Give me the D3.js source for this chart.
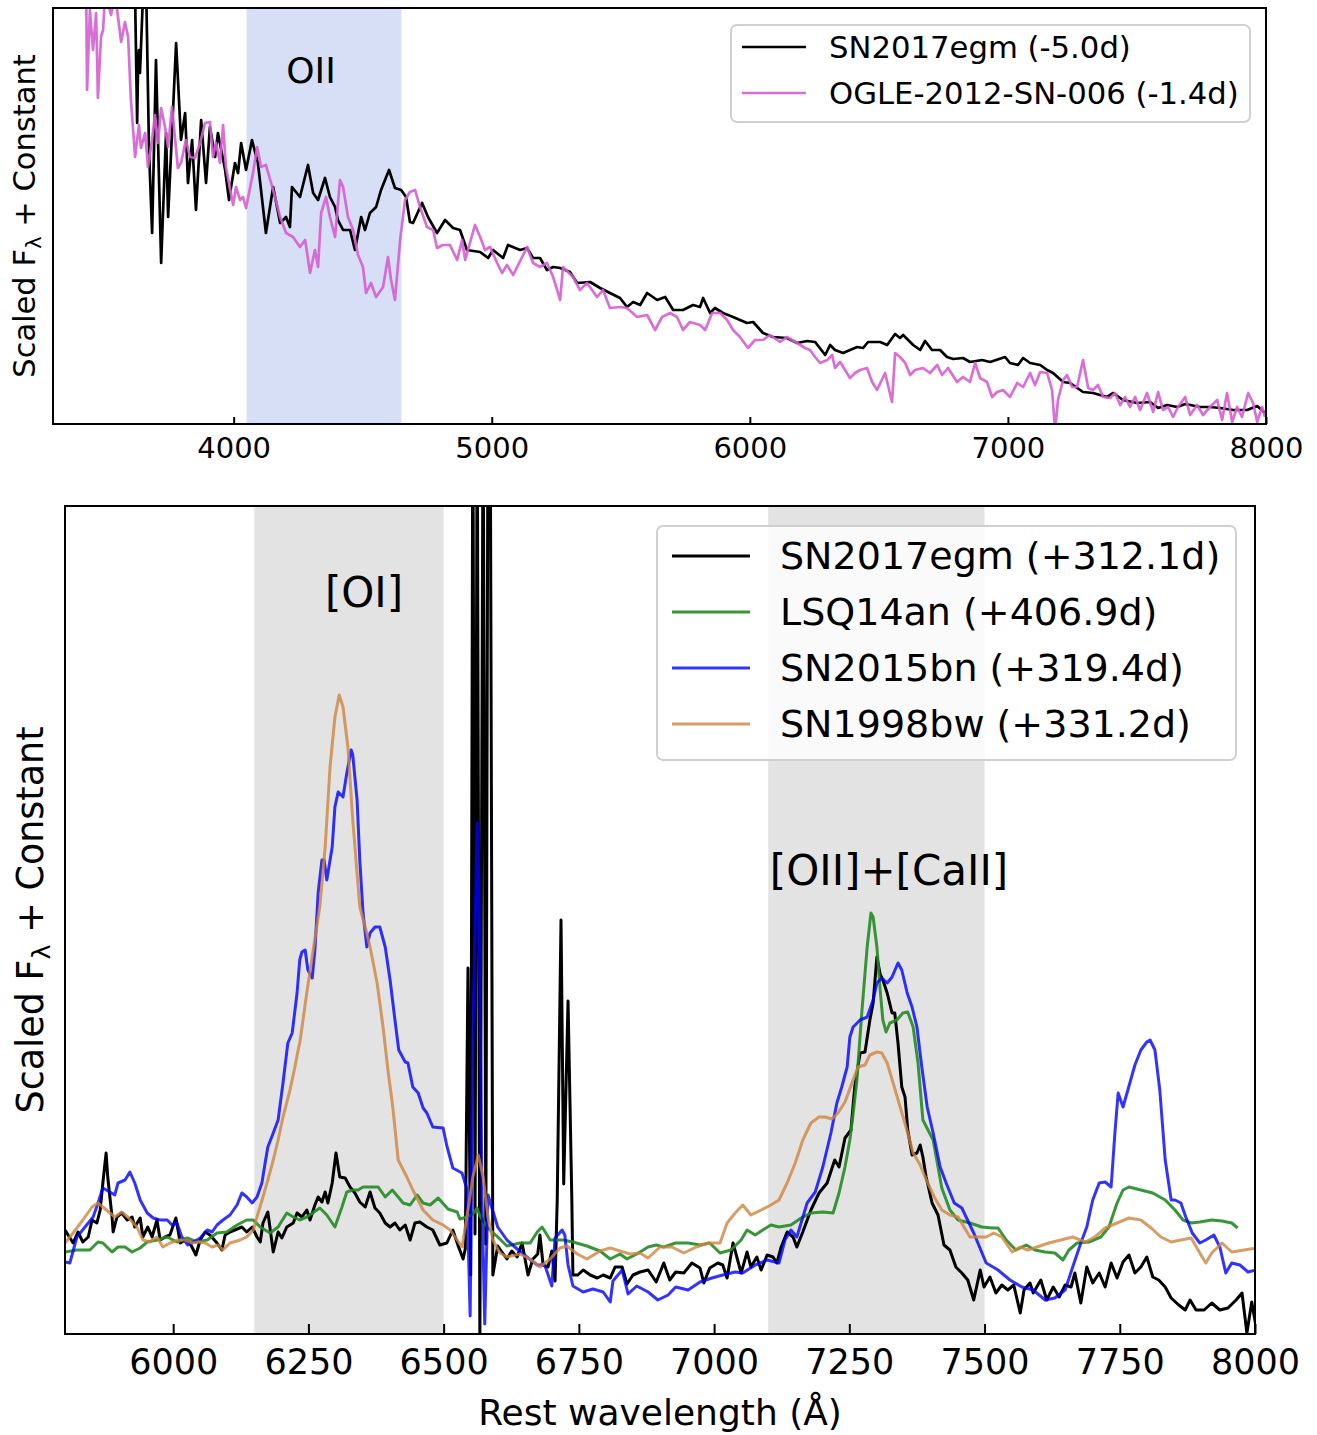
<!DOCTYPE html>
<html>
<head>
<meta charset="utf-8">
<script src="https://cdn.jsdelivr.net/npm/d3@7"></script>
<style>
  html, body { margin: 0; padding: 0; background: #fff; }
  svg { display: block; font-family: "DejaVu Sans", sans-serif; }
</style>
</head>
<body>
<svg id="chart" width="1317" height="1435"></svg>
<script>
// ---------- Early-time spectra (wavelength in Å, scaled flux) ----------
const earlyEgm = [
  [3612,4.6],[3618,4.3],[3626,3.01],[3630,3.64],[3633,3.74],[3637,3.51],[3645,4.04],[3652,4.5],[3660,4.5],
  [3672,2.74],[3684,1.91],[3699,3.64],[3719,1.61],[3738,2.91],[3746,2.07],[3777,3.81],[3796,2.84],
  [3812,3.11],[3823,2.41],[3839,2.84],[3854,2.14],[3874,3.04],[3893,2.41],[3908,2.97],[3928,2.67],
  [3939,2.91],[3967,2.54],[3982,2.24],[4005,2.61],[4017,2.51],[4029,2.81],[4048,2.54],[4071,2.84],
  [4094,2.61],[4125,1.91],[4153,2.37],[4180,2.01],[4203,2.07],[4218,1.97],[4226,2.37],[4257,2.27],
  [4288,2.59],[4308,2.31],[4327,2.24],[4354,2.46],[4373,2.27],[4393,2.17],[4404,2.04],[4424,1.94],
  [4451,1.94],[4470,1.74],[4494,2.07],[4509,1.94],[4528,2.11],[4552,2.17],[4571,2.34],[4602,2.54],
  [4625,2.36],[4649,2.34],[4668,2.27],[4683,2.02],[4695,2.01],[4730,2.21],[4753,2.07],[4788,1.91],
  [4819,2.04],[4850,1.96],[4877,1.94],[4904,1.74],[4955,1.72],[4986,1.66],[5005,1.74],[5044,1.66],
  [5063,1.79],[5110,1.74],[5137,1.76],[5160,1.66],[5187,1.66],[5214,1.54],[5238,1.57],[5265,1.56],
  [5303,1.52],[5331,1.41],[5381,1.42],[5420,1.36],[5458,1.31],[5497,1.26],[5524,1.17],[5548,1.22],
  [5575,1.19],[5602,1.31],[5641,1.24],[5672,1.27],[5703,1.14],[5741,1.14],[5780,1.19],[5807,1.17],
  [5819,1.26],[5846,1.11],[5865,1.16],[5896,1.11],[5935,1.07],[5989,1.01],[6013,1.02],[6051,0.91],
  [6090,0.87],[6144,0.86],[6183,0.81],[6222,0.83],[6253,0.82],[6292,0.69],[6311,0.79],[6330,0.74],
  [6361,0.71],[6416,0.77],[6439,0.76],[6458,0.82],[6505,0.82],[6532,0.79],[6563,0.90],[6582,0.86],
  [6594,0.89],[6633,0.79],[6660,0.74],[6679,0.83],[6706,0.74],[6737,0.74],[6764,0.67],[6788,0.65],
  [6826,0.66],[6853,0.62],[6900,0.64],[6931,0.62],[6989,0.67],[7008,0.61],[7039,0.59],[7059,0.66],
  [7086,0.61],[7125,0.59],[7152,0.54],[7175,0.51],[7214,0.42],[7241,0.41],[7291,0.32],[7330,0.31],
  [7384,0.27],[7408,0.31],[7446,0.24],[7501,0.21],[7551,0.22],[7582,0.16],[7617,0.19],[7656,0.17],
  [7687,0.20],[7745,0.17],[7783,0.17],[7822,0.16],[7873,0.14],[7927,0.14],[7966,0.18],[7996,0.11]
];
const earlyOgle = [
  [3428,4.5],[3432,3.34],[3443,4.14],[3455,3.74],[3467,4.11],[3474,3.26],[3486,3.87],[3494,3.94],
  [3502,4.3],[3525,4.09],[3540,4.3],[3552,4.07],[3564,3.82],[3579,4.02],[3591,3.87],[3602,3.24],
  [3618,2.67],[3633,2.99],[3641,2.76],[3657,2.91],[3668,2.57],[3684,2.84],[3695,3.09],[3707,2.81],
  [3719,3.16],[3734,2.97],[3746,2.77],[3761,3.17],[3784,2.56],[3796,2.61],[3815,2.84],[3831,2.67],
  [3850,2.66],[3870,2.81],[3889,3.01],[3908,3.02],[3920,2.67],[3932,2.81],[3947,2.61],[3959,2.99],
  [3970,2.57],[3998,2.19],[4009,2.37],[4025,2.24],[4036,2.27],[4048,2.16],[4075,2.51],[4091,2.77],
  [4106,2.57],[4125,2.59],[4153,2.34],[4180,2.07],[4203,1.91],[4230,1.87],[4257,1.77],[4277,1.84],
  [4296,1.51],[4315,1.74],[4327,1.57],[4339,2.11],[4358,2.27],[4373,2.07],[4393,1.87],[4412,2.44],
  [4424,2.37],[4443,2.07],[4463,1.94],[4482,1.69],[4501,1.57],[4513,1.31],[4532,1.41],[4552,1.27],
  [4579,1.37],[4598,1.67],[4610,1.44],[4625,1.24],[4645,1.84],[4664,2.24],[4683,2.32],[4703,2.34],
  [4722,2.17],[4749,1.97],[4773,1.94],[4788,1.76],[4811,1.79],[4838,1.79],[4866,1.64],[4885,1.84],
  [4897,1.64],[4935,1.99],[4955,1.87],[4974,1.74],[4993,1.77],[5021,1.61],[5040,1.51],[5059,1.59],
  [5083,1.49],[5137,1.77],[5160,1.61],[5187,1.57],[5214,1.61],[5238,1.47],[5265,1.24],[5276,1.57],
  [5315,1.47],[5342,1.34],[5369,1.41],[5408,1.27],[5431,1.34],[5458,1.16],[5497,1.17],[5524,1.16],
  [5563,1.07],[5602,1.09],[5633,0.94],[5660,1.07],[5691,1.11],[5718,1.07],[5741,0.94],[5768,1.02],
  [5807,0.99],[5827,0.94],[5854,1.11],[5885,1.11],[5912,1.04],[5935,0.94],[5962,0.87],[5993,0.76],
  [6020,0.84],[6051,0.84],[6078,0.89],[6117,0.82],[6144,0.87],[6183,0.81],[6214,0.76],[6233,0.74],
  [6253,0.67],[6272,0.61],[6300,0.64],[6319,0.69],[6330,0.56],[6350,0.62],[6369,0.54],[6388,0.46],
  [6408,0.51],[6427,0.54],[6454,0.56],[6474,0.42],[6493,0.34],[6524,0.51],[6551,0.22],[6563,0.71],
  [6582,0.67],[6602,0.61],[6621,0.49],[6640,0.54],[6671,0.56],[6698,0.51],[6726,0.59],[6745,0.49],
  [6768,0.56],[6803,0.42],[6826,0.47],[6853,0.42],[6873,0.61],[6892,0.46],[6919,0.42],[6939,0.27],
  [6958,0.32],[6981,0.34],[7008,0.27],[7036,0.41],[7059,0.37],[7086,0.51],[7105,0.39],[7125,0.52],
  [7152,0.51],[7171,0.34],[7183,-0.06],[7194,0.24],[7214,0.44],[7229,0.49],[7249,0.37],[7268,0.37],
  [7291,0.64],[7311,0.36],[7330,0.34],[7349,0.39],[7369,0.27],[7396,0.26],[7415,0.31],[7435,0.19],
  [7454,0.27],[7473,0.17],[7493,0.27],[7512,0.14],[7539,0.31],[7563,0.12],[7582,0.32],[7601,0.14],
  [7621,0.17],[7640,0.07],[7659,0.17],[7687,0.27],[7706,0.09],[7733,0.19],[7756,0.09],[7783,0.17],
  [7811,0.24],[7830,0.04],[7849,0.31],[7869,0.02],[7888,0.17],[7907,0.07],[7931,0.31],[7950,0.21],
  [7966,0.02],[7985,0.17],[7996,0.07]
];

// ---------- Nebular spectra ----------
const lateEgm = [
  [5800,1.04],[5815,0.91],[5824,1.02],[5833,0.92],[5843,0.97],[5850,1.14],[5859,1.11],[5865,1.24],
  [5870,1.51],[5876,1.81],[5879,1.57],[5887,1.17],[5889,1.02],[5896,1.17],[5905,1.21],[5915,1.14],
  [5924,1.17],[5929,1.07],[5939,1.16],[5944,0.97],[5953,1.07],[5961,0.97],[5970,1.14],[5976,0.94],
  [5985,0.97],[5994,0.99],[6005,1.16],[6013,0.91],[6022,0.94],[6031,0.91],[6042,0.79],[6050,0.94],
  [6059,1.02],[6068,0.99],[6081,0.91],[6090,0.84],[6096,0.99],[6105,1.02],[6114,1.04],[6127,1.07],
  [6136,1.02],[6146,1.07],[6155,0.97],[6161,0.92],[6166,1.11],[6175,1.22],[6185,0.82],[6194,1.02],
  [6201,0.96],[6210,1.07],[6222,1.11],[6229,1.21],[6238,1.17],[6247,1.24],[6253,1.14],[6262,1.29],
  [6268,1.37],[6275,1.32],[6281,1.42],[6286,1.31],[6294,1.51],[6301,1.81],[6308,1.57],[6318,1.56],
  [6327,1.47],[6336,1.41],[6345,1.32],[6355,1.27],[6364,1.42],[6373,1.26],[6382,1.21],[6392,1.11],
  [6401,1.07],[6410,1.11],[6419,1.04],[6429,1.09],[6438,0.94],[6447,1.11],[6456,1.12],[6469,1.07],
  [6480,1.04],[6493,0.89],[6506,0.91],[6517,1.04],[6527,0.88],[6536,0.75],[6540,0.85],[6545,3.66],
  [6550,0.59],[6554,9.5],[6558,1.0],[6562,9.5],[6567,-0.1],[6573,9.5],[6578,0.9],[6582,9.5],
  [6586,9.5],[6591,0.59],[6600,0.88],[6617,0.75],[6626,0.83],[6636,0.77],[6645,0.91],[6656,0.59],
  [6665,0.75],[6674,0.80],[6678,0.99],[6684,0.69],[6693,0.67],[6700,0.83],[6706,0.53],[6710,1.34],
  [6717,4.14],[6722,1.50],[6730,3.33],[6737,1.34],[6739,0.59],[6748,0.59],[6758,0.64],[6771,0.59],
  [6784,0.56],[6795,0.59],[6808,0.56],[6817,0.67],[6830,0.67],[6839,0.50],[6850,0.59],[6863,0.62],
  [6878,0.64],[6893,0.52],[6907,0.71],[6918,0.54],[6929,0.62],[6944,0.61],[6959,0.71],[6974,0.66],
  [6981,0.51],[6992,0.66],[7007,0.71],[7016,0.69],[7024,0.56],[7035,0.91],[7042,0.77],[7050,0.61],
  [7061,0.82],[7068,0.67],[7079,0.77],[7087,0.64],[7098,0.79],[7109,0.77],[7116,0.71],[7124,0.87],
  [7135,1.02],[7146,0.97],[7153,0.87],[7164,1.02],[7179,1.24],[7194,1.41],[7209,1.51],[7223,1.74],
  [7231,1.67],[7242,1.96],[7253,2.04],[7260,2.47],[7270,2.81],[7279,2.82],[7288,3.14],[7294,3.31],
  [7301,3.77],[7307,3.6],[7312,3.54],[7320,3.41],[7329,3.21],[7334,3.21],[7340,2.91],[7347,2.47],
  [7353,2.37],[7358,2.04],[7366,1.79],[7375,1.81],[7381,1.89],[7386,1.77],[7392,1.57],[7403,1.31],
  [7414,1.19],[7425,0.89],[7436,0.84],[7447,0.67],[7458,0.61],[7469,0.54],[7480,0.34],[7492,0.64],
  [7499,0.47],[7510,0.57],[7521,0.41],[7532,0.49],[7543,0.44],[7554,0.49],[7566,0.21],[7573,0.44],
  [7584,0.51],[7590,0.41],[7604,0.54],[7615,0.34],[7627,0.47],[7638,0.37],[7649,0.49],[7660,0.47],
  [7667,0.61],[7678,0.31],[7689,0.67],[7700,0.51],[7712,0.61],[7723,0.47],[7734,0.71],[7745,0.56],
  [7756,0.72],[7767,0.79],[7778,0.61],[7789,0.67],[7800,0.77],[7811,0.57],[7822,0.54],[7834,0.47],
  [7845,0.36],[7859,0.29],[7871,0.24],[7880,0.34],[7891,0.24],[7906,0.24],[7920,0.31],[7935,0.24],
  [7950,0.26],[7965,0.34],[7976,0.41],[7985,0.01],[7994,0.32],[8002,0.07]
];
const lateLsq = [
  [5800,0.82],[5822,0.84],[5846,0.84],[5861,0.92],[5870,0.91],[5887,0.82],[5898,0.87],[5911,0.87],
  [5924,0.82],[5939,0.86],[5952,0.92],[5970,0.94],[5989,0.97],[6007,0.92],[6026,0.96],[6044,0.92],
  [6063,0.94],[6081,1.01],[6099,1.02],[6118,1.09],[6136,1.14],[6148,1.14],[6161,1.07],[6179,1.01],
  [6194,1.07],[6210,1.21],[6222,1.17],[6234,1.14],[6247,1.17],[6258,1.21],[6271,1.26],[6284,1.19],
  [6299,1.07],[6312,1.27],[6321,1.42],[6332,1.44],[6342,1.44],[6351,1.47],[6364,1.47],[6379,1.47],
  [6392,1.37],[6405,1.44],[6416,1.37],[6425,1.31],[6438,1.29],[6451,1.39],[6462,1.31],[6475,1.29],
  [6490,1.36],[6508,1.25],[6525,1.22],[6530,1.15],[6543,1.17],[6554,1.20],[6562,1.26],[6567,1.18],
  [6582,1.06],[6600,0.97],[6617,0.88],[6641,0.91],[6660,0.91],[6673,1.02],[6682,1.07],[6697,0.94],
  [6721,0.94],[6739,0.92],[6765,0.88],[6789,0.83],[6808,0.75],[6826,0.80],[6839,0.75],[6857,0.80],
  [6878,0.87],[6893,0.89],[6907,0.87],[6929,0.91],[6952,0.91],[6974,0.89],[6992,0.91],[7011,0.81],
  [7031,0.84],[7050,0.94],[7061,1.04],[7076,0.99],[7090,1.04],[7105,1.09],[7120,1.07],[7142,1.09],
  [7161,1.16],[7179,1.21],[7201,1.22],[7220,1.21],[7231,1.41],[7242,1.67],[7251,1.94],[7257,2.2],
  [7264,2.54],[7273,3.21],[7283,3.87],[7290,4.21],[7294,4.17],[7301,3.87],[7307,3.44],[7312,3.14],
  [7318,3.02],[7325,3.11],[7338,3.14],[7349,3.21],[7358,3.22],[7368,3.07],[7377,2.71],[7386,2.14],
  [7405,1.94],[7414,1.67],[7421,1.46],[7436,1.24],[7451,1.14],[7473,1.11],[7495,1.07],[7514,1.06],
  [7525,1.06],[7540,0.94],[7558,0.84],[7577,0.89],[7593,0.84],[7612,0.82],[7630,0.81],[7645,0.74],
  [7656,0.84],[7671,0.91],[7693,0.92],[7715,0.97],[7730,1.07],[7745,1.31],[7756,1.44],[7767,1.47],
  [7789,1.44],[7811,1.41],[7834,1.34],[7852,1.24],[7867,1.14],[7882,1.11],[7898,1.12],[7920,1.14],
  [7939,1.13],[7957,1.11],[7968,1.06]
];
const late2015bn = [
  [5800,0.72],[5809,0.71],[5822,0.97],[5837,1.07],[5852,1.17],[5861,1.31],[5870,1.46],[5883,1.42],
  [5892,1.39],[5898,1.51],[5911,1.54],[5920,1.62],[5929,1.51],[5939,1.34],[5952,1.21],[5963,1.16],
  [5976,1.14],[5989,1.14],[5998,1.09],[6007,1.11],[6016,0.97],[6027,0.89],[6037,0.92],[6050,0.96],
  [6063,1.04],[6072,1.02],[6081,1.09],[6092,1.14],[6105,1.19],[6118,1.29],[6127,1.41],[6136,1.37],
  [6146,1.31],[6155,1.37],[6164,1.51],[6170,1.71],[6175,1.87],[6185,2.01],[6194,2.14],[6203,2.51],
  [6212,2.91],[6220,3.01],[6229,3.41],[6234,3.74],[6238,3.82],[6244,3.84],[6249,3.64],[6257,3.56],
  [6262,3.84],[6268,4.41],[6275,4.74],[6279,4.74],[6284,4.54],[6294,4.87],[6299,5.27],[6305,5.42],
  [6314,5.37],[6321,5.61],[6329,5.84],[6332,5.79],[6340,5.34],[6345,4.74],[6351,4.21],[6358,3.87],
  [6364,4.01],[6373,4.07],[6382,4.07],[6392,3.87],[6401,3.54],[6410,3.14],[6417,2.84],[6429,2.72],
  [6434,2.71],[6443,2.47],[6453,2.41],[6462,2.26],[6469,2.21],[6480,2.07],[6499,2.06],[6506,1.88],
  [6517,1.66],[6534,1.61],[6543,1.45],[6549,0.18],[6554,2.96],[6562,5.11],[6565,4.57],[6571,1.34],
  [6576,0.10],[6582,1.39],[6591,1.23],[6600,1.07],[6617,0.94],[6636,0.85],[6654,0.77],[6673,0.69],
  [6687,0.69],[6700,0.48],[6706,0.96],[6719,1.04],[6724,0.99],[6730,0.69],[6739,0.48],[6758,0.42],
  [6776,0.45],[6795,0.42],[6808,0.32],[6813,0.53],[6830,0.64],[6841,0.40],[6857,0.48],[6878,0.42],
  [6896,0.34],[6915,0.39],[6929,0.47],[6952,0.44],[6974,0.52],[6996,0.56],[7016,0.59],[7039,0.62],
  [7053,0.61],[7076,0.69],[7098,0.74],[7120,0.71],[7131,0.94],[7142,1.04],[7153,0.97],[7172,1.31],
  [7187,1.42],[7201,1.67],[7216,2.01],[7227,2.31],[7236,2.47],[7246,2.67],[7251,2.97],[7257,3.07],
  [7270,3.14],[7283,3.17],[7294,3.34],[7301,3.51],[7310,3.56],[7320,3.51],[7329,3.57],[7340,3.71],
  [7347,3.64],[7357,3.41],[7366,3.27],[7375,3.07],[7384,2.67],[7394,2.27],[7405,2.01],[7418,1.67],
  [7429,1.51],[7444,1.31],[7458,1.26],[7480,1.01],[7503,0.71],[7525,0.64],[7547,0.54],[7569,0.47],
  [7590,0.44],[7612,0.34],[7630,0.36],[7649,0.44],[7663,0.67],[7678,0.91],[7689,1.07],[7700,1.34],
  [7712,1.51],[7723,1.52],[7734,1.47],[7741,2.01],[7747,2.41],[7756,2.27],[7765,2.44],[7778,2.69],
  [7789,2.84],[7800,2.92],[7806,2.94],[7815,2.84],[7824,2.44],[7834,1.74],[7845,1.34],[7852,1.34],
  [7863,1.31],[7872,1.17],[7884,1.01],[7898,0.91],[7909,0.94],[7924,0.99],[7935,0.87],[7946,0.61],
  [7957,0.71],[7972,0.69],[7987,0.62],[8002,0.64]
];
const late1998bw = [
  [5800,0.91],[5815,1.01],[5833,1.14],[5850,1.27],[5861,1.31],[5870,1.27],[5883,1.21],[5892,1.17],
  [5905,1.22],[5916,1.17],[5933,1.07],[5944,0.94],[5957,0.92],[5970,0.97],[5981,0.87],[5994,0.91],
  [6009,0.94],[6022,0.94],[6035,0.91],[6046,0.92],[6059,0.91],[6072,0.87],[6083,0.89],[6092,0.84],
  [6105,0.91],[6124,0.94],[6136,0.97],[6148,1.04],[6157,1.21],[6166,1.37],[6175,1.54],[6185,1.74],
  [6194,1.94],[6203,2.17],[6216,2.44],[6225,2.67],[6231,2.84],[6234,2.91],[6247,3.41],[6258,3.81],
  [6271,4.27],[6281,4.87],[6290,5.67],[6299,6.17],[6307,6.39],[6314,6.27],[6323,5.87],[6332,5.14],
  [6345,4.27],[6355,4.07],[6364,3.87],[6377,3.51],[6388,3.07],[6397,2.64],[6406,2.27],[6416,1.74],
  [6432,1.57],[6443,1.44],[6462,1.24],[6480,1.14],[6499,1.09],[6512,1.04],[6525,0.94],[6534,0.87],
  [6543,1.17],[6554,1.57],[6564,1.79],[6573,1.57],[6582,1.17],[6591,0.94],[6604,0.81],[6617,0.77],
  [6641,0.80],[6660,0.75],[6678,0.67],[6697,0.75],[6715,0.86],[6728,0.88],[6747,0.80],[6765,0.75],
  [6789,0.83],[6808,0.86],[6826,0.83],[6845,0.80],[6863,0.81],[6878,0.76],[6900,0.87],[6922,0.87],
  [6944,0.81],[6967,0.87],[6989,0.91],[7011,0.91],[7024,1.11],[7039,1.21],[7053,1.29],[7068,1.19],
  [7087,1.24],[7105,1.29],[7120,1.34],[7135,1.51],[7150,1.71],[7164,1.94],[7179,2.11],[7194,2.17],
  [7205,2.17],[7218,2.15],[7229,2.21],[7242,2.32],[7255,2.51],[7266,2.67],[7279,2.69],[7288,2.79],
  [7301,2.82],[7310,2.81],[7320,2.71],[7331,2.51],[7344,2.27],[7358,2.01],[7368,1.81],[7381,1.69],
  [7390,1.57],[7407,1.37],[7421,1.24],[7436,1.19],[7451,1.17],[7473,0.97],[7488,0.97],[7503,0.97],
  [7517,1.01],[7532,0.97],[7551,0.82],[7566,0.87],[7580,0.84],[7597,0.87],[7619,0.91],[7641,0.94],
  [7663,0.97],[7686,0.92],[7704,0.97],[7723,1.06],[7745,1.11],[7767,1.16],[7789,1.14],[7808,1.06],
  [7826,0.97],[7845,0.92],[7863,0.94],[7882,0.96],[7898,0.81],[7909,0.71],[7920,0.81],[7939,0.91],
  [7957,0.82],[7980,0.84],[8002,0.86]
];

// Shaded line regions (Å)
const earlyBands = [{from: 4050, to: 4650}];
const lateBands = [{from: 6150, to: 6500}, {from: 7100, to: 7500}];

// Tick values
const earlyTicks = [4000, 5000, 6000, 7000, 8000];
const lateTicks = [6000, 6250, 6500, 6750, 7000, 7250, 7500, 7750, 8000];

// Series tables
const earlySeries = [
  {name: "SN2017egm (-5.0d)", data: earlyEgm, color: "#000000", opacity: 1},
  {name: "OGLE-2012-SN-006 (-1.4d)", data: earlyOgle, color: "#d55ed3", opacity: 0.9}
];
const lateSeries = [
  {name: "SN2017egm (+312.1d)", data: lateEgm, color: "#000000", opacity: 1},
  {name: "LSQ14an (+406.9d)", data: lateLsq, color: "#228b22", opacity: 0.9},
  {name: "SN2015bn (+319.4d)", data: late2015bn, color: "#0000ff", opacity: 0.8},
  {name: "SN1998bw (+331.2d)", data: late1998bw, color: "#cd853f", opacity: 0.8}
];

const svg = d3.select("#chart");

function drawPanel(opt) {
  const {id, box, xDomain, yDomain, ticks, fontSize, tickLen, labelPad, bands, bandColor, series, lineWidth} = opt;
  const x = d3.scaleLinear().domain(xDomain).range([box.left, box.right]);
  const y = d3.scaleLinear().domain(yDomain).range([box.bottom, box.top]);
  const g = svg.append("g");

  g.append("clipPath").attr("id", id)
    .append("rect")
    .attr("x", box.left).attr("y", box.top)
    .attr("width", box.right - box.left).attr("height", box.bottom - box.top);

  // shaded wavelength ranges
  g.append("g").selectAll("rect").data(bands).join("rect")
    .attr("x", d => x(d.from)).attr("width", d => x(d.to) - x(d.from))
    .attr("y", box.top).attr("height", box.bottom - box.top)
    .attr("fill", bandColor);

  const line = d3.line().x(d => x(d[0])).y(d => y(d[1]));
  g.append("g").attr("clip-path", `url(#${id})`)
    .selectAll("path").data(series).join("path")
    .attr("d", d => line(d.data))
    .attr("fill", "none")
    .attr("stroke", d => d.color)
    .attr("stroke-opacity", d => d.opacity)
    .attr("stroke-width", lineWidth)
    .attr("stroke-linejoin", "round");

  // x axis with inward ticks
  const axis = d3.axisBottom(x).tickValues(ticks).tickFormat(d3.format("d"))
    .tickSizeInner(-tickLen).tickSizeOuter(0).tickPadding(labelPad);
  const ax = g.append("g").attr("transform", `translate(0,${box.bottom})`).call(axis);
  ax.select(".domain").remove();
  ax.selectAll(".tick line").attr("stroke", "#000").attr("stroke-width", 2);
  ax.selectAll(".tick text").attr("font-size", fontSize).attr("fill", "#000")
    .attr("font-family", "DejaVu Sans");

  // frame
  g.append("rect")
    .attr("x", box.left).attr("y", box.top)
    .attr("width", box.right - box.left).attr("height", box.bottom - box.top)
    .attr("fill", "none").attr("stroke", "#000").attr("stroke-width", 2);

  return {x, y, g};
}

function drawLegend(g, rect, rows, opt) {
  const lg = g.append("g");
  lg.append("rect")
    .attr("x", rect.x).attr("y", rect.y).attr("width", rect.w).attr("height", rect.h)
    .attr("rx", 6).attr("fill", "#fff").attr("fill-opacity", 0.8)
    .attr("stroke", "#d0d0d0").attr("stroke-width", 2);
  const item = lg.selectAll("g.item").data(rows).join("g").attr("class", "item")
    .attr("transform", (d, i) => `translate(0,${opt.firstRow + i * opt.rowStep})`);
  item.append("line")
    .attr("x1", opt.lineX1).attr("x2", opt.lineX2)
    .attr("stroke", d => d.color).attr("stroke-opacity", d => d.opacity)
    .attr("stroke-width", opt.lineWidth);
  item.append("text")
    .attr("x", opt.textX).attr("dy", "0.35em")
    .attr("font-size", opt.fontSize)
    .text(d => d.name);
}

function yLabel(g, cx, cy, size) {
  const t = g.append("text")
    .attr("transform", `translate(${cx},${cy}) rotate(-90)`)
    .attr("text-anchor", "middle").attr("dy", "0.35em")
    .attr("font-size", size);
  t.append("tspan").text("Scaled F");
  t.append("tspan").attr("font-size", size * 0.7).attr("dy", "0.3em").text("λ");
  t.append("tspan").attr("dy", "-0.21em").text(" + Constant");
}

// ----- upper panel: pre-peak -----
const upper = drawPanel({
  id: "clipTop",
  box: {left: 53, right: 1266, top: 8, bottom: 424},
  xDomain: [3300, 8000], yDomain: [0, 4.16],
  ticks: earlyTicks, fontSize: 29, tickLen: 7, labelPad: 13,
  bands: earlyBands, bandColor: "#d6dff6",
  series: earlySeries, lineWidth: 2.7
});
upper.g.append("text")
  .attr("x", upper.x(4300)).attr("y", 70).attr("dy", "0.35em")
  .attr("text-anchor", "middle").attr("font-size", 36).text("OII");
drawLegend(upper.g, {x: 731, y: 25, w: 519, h: 97}, earlySeries,
  {firstRow: 47, rowStep: 46, lineX1: 742, lineX2: 806, textX: 829, fontSize: 30.7, lineWidth: 2.4});
yLabel(upper.g, 24, 216, 30.5);

// ----- lower panel: nebular phase -----
const lower = drawPanel({
  id: "clipBot",
  box: {left: 65, right: 1255, top: 506, bottom: 1334},
  xDomain: [5800, 8000], yDomain: [0, 8.28],
  ticks: lateTicks, fontSize: 35, tickLen: 10, labelPad: 15,
  bands: lateBands, bandColor: "#e3e3e3",
  series: lateSeries, lineWidth: 3
});
lower.g.append("text")
  .attr("x", 364).attr("y", 592).attr("dy", "0.35em")
  .attr("text-anchor", "middle").attr("font-size", 42).text("[OI]");
lower.g.append("text")
  .attr("x", 889).attr("y", 870).attr("dy", "0.35em")
  .attr("text-anchor", "middle").attr("font-size", 42).text("[OII]+[CaII]");
drawLegend(lower.g, {x: 657, y: 526, w: 579, h: 234}, lateSeries,
  {firstRow: 556, rowStep: 56, lineX1: 672, lineX2: 750, textX: 780, fontSize: 38, lineWidth: 2.8});
yLabel(lower.g, 30, 920, 36.5);
lower.g.append("text")
  .attr("x", 660).attr("y", 1412).attr("dy", "0.35em")
  .attr("text-anchor", "middle").attr("font-size", 36).text("Rest wavelength (Å)");
</script>
</body>
</html>
